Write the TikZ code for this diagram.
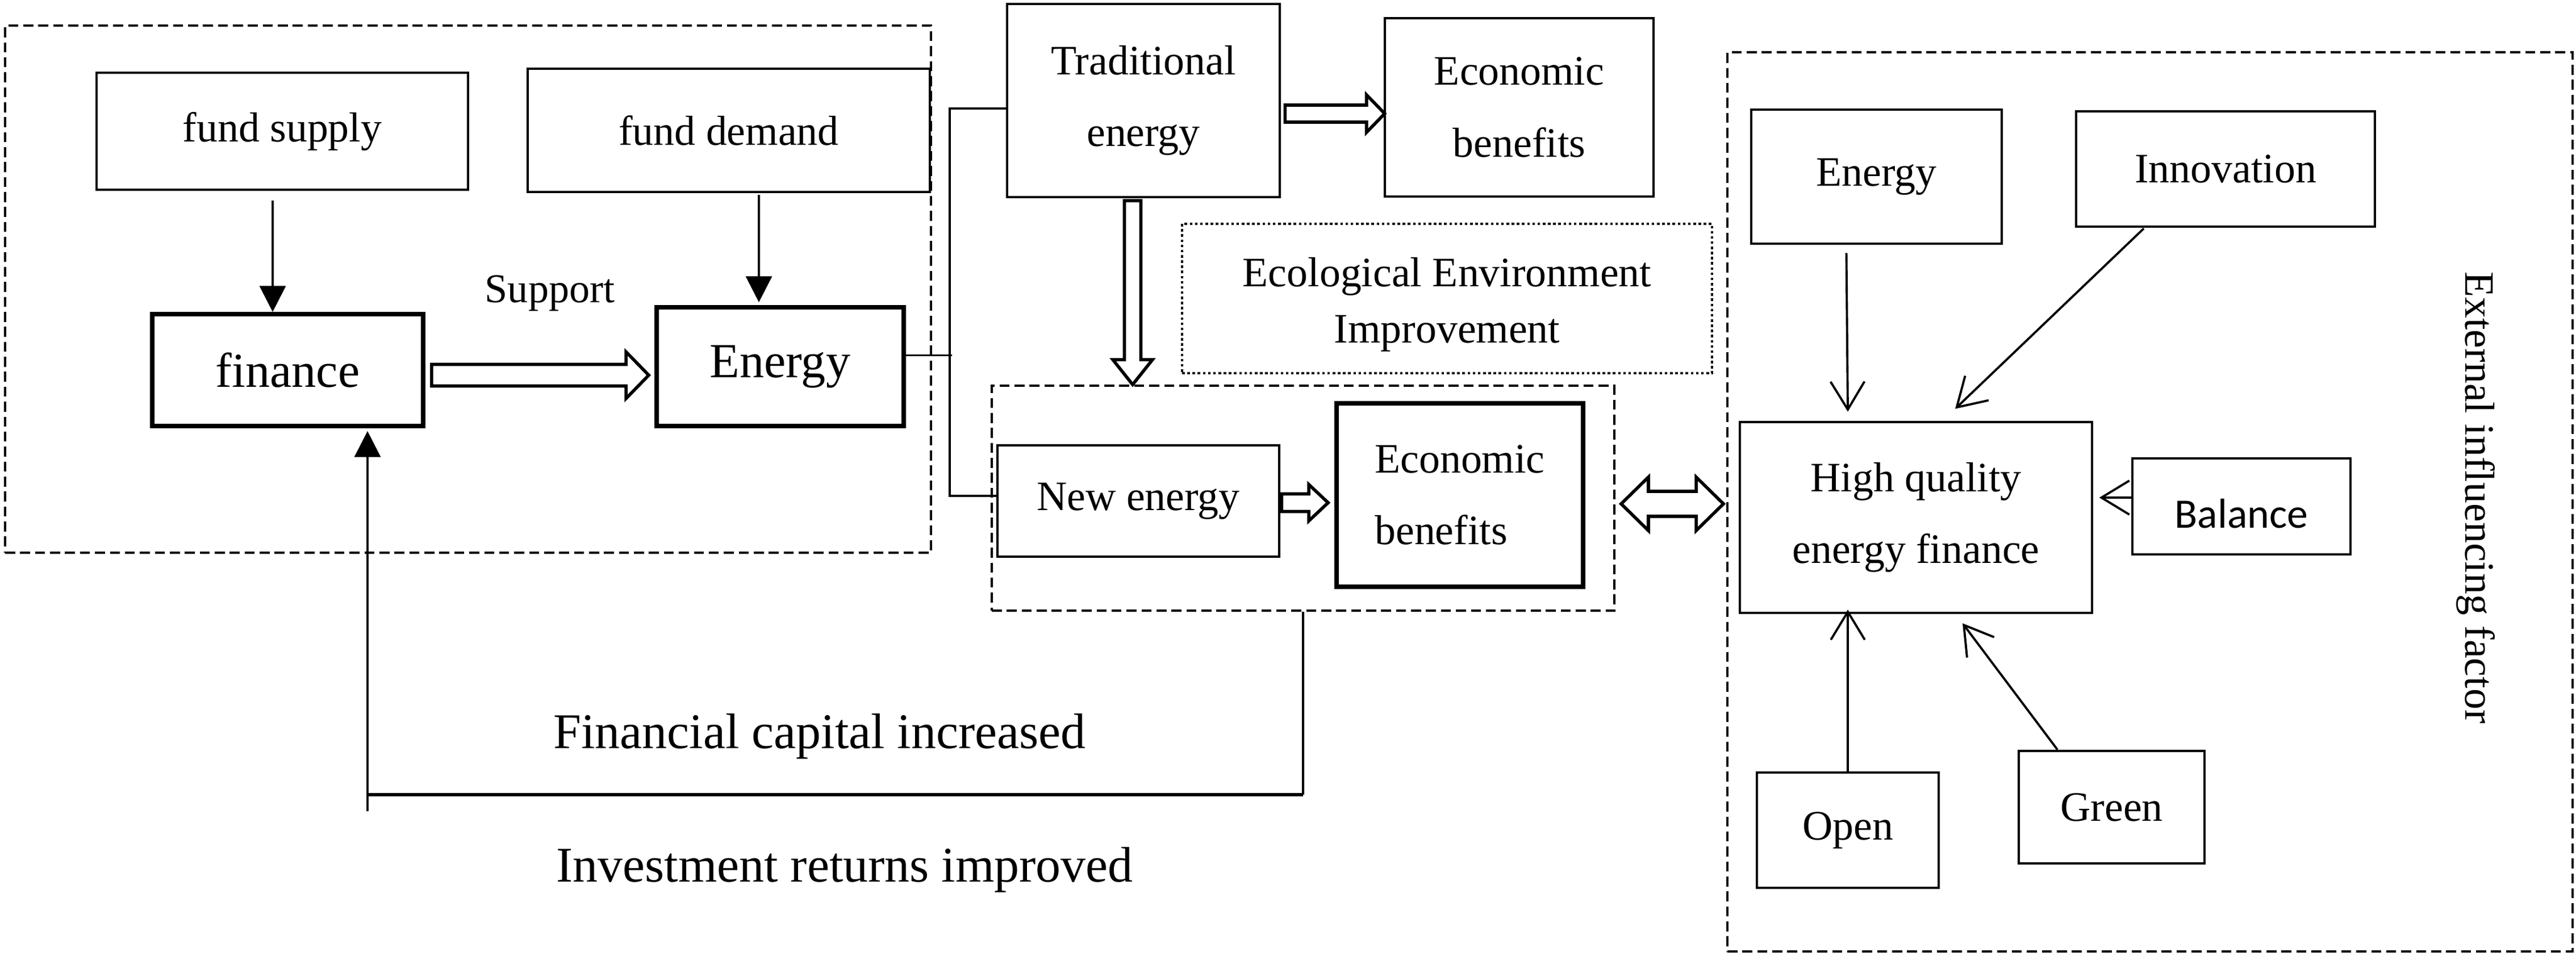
\documentclass[tikz,border=0pt]{standalone}
\usepackage{fontspec}
\setmainfont{Liberation Serif}
\newfontfamily\balancefont{Carlito}
\usepackage{tikz}
\usetikzlibrary{arrows.meta,calc,positioning}

% block arrow with an open outline: from, to, shaft half width, head half width, head length
\newcommand{\hollowarrow}[5]{%
    \coordinate (ha-a) at (#1);
    \coordinate (ha-b) at (#2);
    \coordinate (ha-c) at ($(ha-b)!#5!(ha-a)$);
    \draw[hollow line]
        ($(ha-a)!#3!90:(ha-b)$) --
        ($(ha-c)!#3!-90:(ha-a)$) --
        ($(ha-c)!#4!-90:(ha-a)$) --
        (ha-b) --
        ($(ha-c)!#4!90:(ha-a)$) --
        ($(ha-c)!#3!90:(ha-a)$) --
        ($(ha-a)!#3!-90:(ha-b)$) -- cycle;
}

% same, with a head at both ends
\newcommand{\hollowdoublearrow}[5]{%
    \coordinate (hd-a) at (#1);
    \coordinate (hd-b) at (#2);
    \coordinate (hd-c) at ($(hd-b)!#5!(hd-a)$);
    \coordinate (hd-d) at ($(hd-a)!#5!(hd-b)$);
    \draw[hollow line]
        (hd-a) --
        ($(hd-d)!#4!90:(hd-b)$) --
        ($(hd-d)!#3!90:(hd-b)$) --
        ($(hd-c)!#3!-90:(hd-a)$) --
        ($(hd-c)!#4!-90:(hd-a)$) --
        (hd-b) --
        ($(hd-c)!#4!90:(hd-a)$) --
        ($(hd-c)!#3!90:(hd-a)$) --
        ($(hd-d)!#3!-90:(hd-b)$) --
        ($(hd-d)!#4!-90:(hd-b)$) -- cycle;
}

\begin{document}
\begin{tikzpicture}[
        x=1cm,
        y=-1cm,
        box/.style={
            draw,
            line width=1.3pt,
            inner sep=0pt,
            align=center,
            font=\fontsize{21pt}{36pt}\selectfont
        },
        thickbox/.style={
            box,
            line width=2.2pt
        },
        group frame/.style={
            draw,
            line width=1.1pt,
            dash pattern=on 5pt off 2.5pt,
            inner sep=0pt
        },
        dotted frame/.style={
            draw,
            line width=1.1pt,
            dash pattern=on 1.3pt off 1.3pt,
            inner sep=0pt,
            align=center,
            font=\fontsize{21pt}{28pt}\selectfont
        },
        note/.style={
            inner sep=0pt,
            font=\fontsize{21pt}{25pt}\selectfont
        },
        link/.style={
            line width=1.1pt
        },
        pointer/.style={
            link,
            -{Triangle[length=13pt,width=13pt]}
        },
        influence/.style={
            line width=1.1pt,
            -{Straight Barb[length=14pt,width=17pt]}
        },
        hollow line/.style={
            line width=1.6pt,
            line join=miter
        }
    ]

    \useasboundingbox (0,0) rectangle (45.35,16.83);

    % dashed groups
    \node[group frame, minimum width=16.30cm, minimum height=9.28cm] (leftframe) at (8.24,5.09) {};
    \node[group frame, minimum width=10.96cm, minimum height=3.96cm] (newbox) at (22.94,8.77) {};
    \node[group frame, minimum width=14.88cm, minimum height=15.83cm] (extbox) at (37.85,8.835) {};
    \node[dotted frame, minimum width=9.33cm, minimum height=2.63cm, text height=1.71cm, text depth=0.16cm] (eco) at (25.475,5.255) {Ecological Environment\\Improvement};

    % left part
    \node[box, minimum width=6.54cm, minimum height=2.06cm] (supply) at (4.97,2.31) {fund supply};
    \node[box, minimum width=7.08cm, minimum height=2.17cm] (demand) at (12.83,2.295) {fund demand};
    \node[thickbox, minimum width=4.77cm, minimum height=1.97cm, font=\fontsize{24.5pt}{30pt}\selectfont] (finance) at (5.065,6.515) {finance};
    \node[thickbox, minimum width=4.35cm, minimum height=2.09cm, font=\fontsize{24.5pt}{30pt}\selectfont] (energyL) at (13.735,6.455) {Energy};
    \node[note, font=\fontsize{20.5pt}{25pt}\selectfont] (support) at (9.68,5.16) {Support};

    % middle part
    \node[box, minimum width=4.80cm, minimum height=3.40cm] (trad) at (20.13,1.77) {Traditional\\energy};
    \node[box, minimum width=4.73cm, minimum height=3.14cm] (econA) at (26.745,1.89) {Economic\\benefits};
    \node[box, minimum width=4.96cm, minimum height=1.96cm] (newE) at (20.04,8.82) {New energy};
    \node[thickbox, align=left, minimum width=4.34cm, minimum height=3.23cm] (econB) at (25.70,8.715) {Economic\\benefits};

    % right part
    \node[box, minimum width=4.41cm, minimum height=2.36cm] (energyR) at (33.035,3.11) {Energy};
    \node[box, minimum width=5.26cm, minimum height=2.03cm] (innov) at (39.18,2.975) {Innovation};
    \node[box, minimum width=6.20cm, minimum height=3.36cm] (hq) at (33.73,9.11) {High quality\\energy finance};
    \node[box, minimum width=3.84cm, minimum height=1.69cm, text height=0.75cm, text depth=0pt, font=\balancefont\fontsize{21pt}{25pt}\selectfont] (balance) at (39.46,8.915) {Balance};
    \node[box, minimum width=3.20cm, minimum height=2.03cm] (open) at (32.53,14.615) {Open};
    \node[box, minimum width=3.27cm, minimum height=1.98cm] (green) at (37.175,14.21) {Green};
    \node[note, rotate=-90] (factor) at (43.58,8.76) {External influencing factor};

    % bottom texts
    \node[note, anchor=base, font=\fontsize{25pt}{30pt}\selectfont] (capital) at (14.43,13.17) {Financial capital increased};
    \node[note, anchor=base, font=\fontsize{25pt}{30pt}\selectfont] (returns) at (14.87,15.52) {Investment returns improved};

    % arrows into finance and energy
    \draw[pointer] ($(supply.south)+(-0.17,0.17)$) -- ($(supply.south |- finance.north)+(-0.17,0)$);
    \draw[pointer] ($(demand.south)+(0.53,0.03)$) -- ($(demand.south |- energyL.north)+(0.53,-0.05)$);
    \hollowarrow{$(finance.east)+(0.11,0.09)$}{$(energyL.west)+(-0.10,0.15)$}{0.19cm}{0.41cm}{0.40cm}

    % fork to traditional and new energy
    \coordinate (forkT) at (16.72,1.91);
    \coordinate (forkB) at (16.72,8.73);
    \draw[link] ($(energyL.east)+(0,-0.2)$) -- ++(0.81,0);
    \draw[link] (trad.west |- forkT) -- (forkT) -- (forkB) -- (newE.west |- forkB);

    \hollowarrow{$(trad.east)+(0.07,0.23)$}{$(econA.west)+(0.02,0.11)$}{0.15cm}{0.33cm}{0.32cm}
    \hollowarrow{$(trad.south)+(-0.19,0.04)$}{$(trad.south |- newbox.north)+(-0.19,0)$}{0.145cm}{0.35cm}{0.44cm}
    \hollowarrow{$(newE.east)+(0.02,0.03)$}{$(econB.west)+(-0.11,0.135)$}{0.155cm}{0.32cm}{0.34cm}
    \hollowdoublearrow{$(newbox.east)+(0.10,0.10)$}{$(extbox.west)+(-0.05,0.035)$}{0.22cm}{0.47cm}{0.48cm}

    % return loop
    \coordinate (loopL) at (6.47,13.99);
    \draw[link] (newbox.south) -- (newbox.south |- loopL);
    \draw[link, line width=1.7pt] (newbox.south |- loopL) -- (loopL);
    \draw[pointer] ($(loopL)+(0,0.29)$) -- ($(loopL |- finance.south)+(0,0.05)$);

    % external factors
    \draw[influence] ($(energyR.south)+(-0.53,0.14)$) -- ($(hq.north)+(-1.20,-0.16)$);
    \draw[influence] ($(innov.south)+(-1.44,0.01)$) -- ($(hq.north)+(0.69,-0.21)$);
    \draw[influence] ($(balance.west)+(0,-0.155)$) -- ++(-0.56,0);
    \draw[influence] (open.north) -- ($(hq.south)+(-1.20,-0.08)$);
    \draw[influence] ($(green.north)+(-0.955,0)$) -- ($(hq.south)+(0.82,0.16)$);

\end{tikzpicture}
\end{document}
